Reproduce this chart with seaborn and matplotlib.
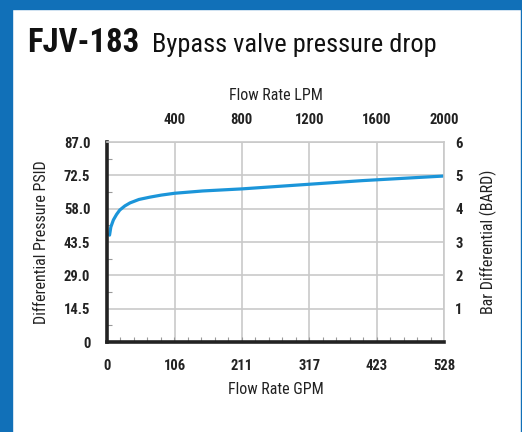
import numpy as np
import pandas as pd
import matplotlib
matplotlib.use("Agg")
import matplotlib.pyplot as plt
from matplotlib.patches import Rectangle
from matplotlib.ticker import MultipleLocator
import seaborn as sns

# curve (GPM vs PSID)
flow_gpm = [4, 6, 10, 15, 20, 28, 36, 50, 67, 85, 106, 150, 211, 300, 400, 528]
pressure_psid = [46.5, 50.0, 53.1, 55.5, 57.4, 59.2, 60.5, 62.0, 63.0, 63.9,
                 64.7, 65.7, 66.6, 68.3, 70.2, 72.2]

gpm_ticks = [0, 106, 211, 317, 423, 528]
psid_ticks = [0, 14.5, 29.0, 43.5, 58.0, 72.5, 87.0]
psid_labels = ["0", "14.5", "29.0", "43.5", "58.0", "72.5", "87.0"]
lpm_ticks = [400, 800, 1200, 1600, 2000]
bar_ticks = [1, 2, 3, 4, 5, 6]

GPM_TO_LPM = 3.78541
FRAME_BLUE = "#1170b8"
LINE_BLUE = "#1b95d9"
GRID = "#c9c9c9"
NARROW = ["Roboto Condensed", "Archivo Narrow", "Liberation Sans", "DejaVu Sans"]

sns.set_style("white")
plt.rcParams["font.family"] = NARROW

df = pd.DataFrame({"gpm": flow_gpm, "psid": pressure_psid})

fig = plt.figure(figsize=(5.22, 4.32), dpi=100, facecolor="white")
W, H = 522, 432

# blue frame
fig.patches.append(Rectangle((0, 1 - 9 / H), 1, 9 / H, transform=fig.transFigure,
                             color=FRAME_BLUE, zorder=0))
fig.patches.append(Rectangle((0, 0), 12 / W, 1, transform=fig.transFigure,
                             color=FRAME_BLUE, zorder=0))
fig.patches.append(Rectangle((520.5 / W, 0), 2 / W, 1, transform=fig.transFigure,
                             color=FRAME_BLUE, zorder=0))

# title
fig.text(27 / W, 1 - 52 / H, "FJV-183", fontsize=23.5, fontweight="bold",
         va="baseline", color="#111111")
fig.text(152 / W, 1 - 52 / H, "Bypass valve pressure drop", fontsize=19,
         va="baseline", color="#111111")

ax = fig.add_axes([107 / W, 1 - 342 / H, 337 / W, 200 / H])
sns.lineplot(data=df, x="gpm", y="psid", ax=ax, color=LINE_BLUE, linewidth=2.3)

ax.set_xlim(0, 528)
ax.set_ylim(0, 87)
ax.set_xticks(gpm_ticks)
ax.set_yticks(psid_ticks)
ax.set_yticklabels(psid_labels)
ax.xaxis.set_minor_locator(MultipleLocator(528 / 25))
ax.yaxis.set_minor_locator(MultipleLocator(7.25))
ax.grid(True, which="major", color=GRID, linewidth=1.2)
ax.set_axisbelow(True)
ax.tick_params(axis="both", which="major", length=0, labelsize=10.5,
               labelcolor="#222222")
ax.tick_params(axis="x", which="major", pad=12)
ax.tick_params(axis="y", which="major", pad=12)
ax.tick_params(axis="both", which="minor", direction="in", length=3.5,
               width=0.8, color="#999999")
for lab in ax.get_xticklabels() + ax.get_yticklabels():
    lab.set_fontweight("bold")

for side in ["left", "bottom"]:
    ax.spines[side].set_color("#222222")
    ax.spines[side].set_linewidth(2.6)
for side in ["top", "right"]:
    ax.spines[side].set_color(GRID)
    ax.spines[side].set_linewidth(1.2)

ax.set_xlabel("Flow Rate GPM", fontsize=11.5, color="#222222")
ax.set_ylabel("Differential Pressure PSID", fontsize=11.5, color="#222222")
ax.xaxis.set_label_coords(0.5, -0.235)
ax.xaxis.label.set_va("center")
ax.yaxis.set_label_coords(-0.193, 0.5)
ax.yaxis.label.set_va("center")

# top axis in LPM
axt = ax.twiny()
axt.set_xlim(0, 528 * GPM_TO_LPM)
axt.set_xticks(lpm_ticks)
axt.tick_params(axis="x", length=0, labelsize=10.5, pad=11, labelcolor="#222222")
for lab in axt.get_xticklabels():
    lab.set_fontweight("bold")
axt.set_xlabel("Flow Rate LPM", fontsize=11.5, color="#222222")
axt.xaxis.set_label_coords(0.5, 1.23)
axt.xaxis.label.set_va("center")
for s in axt.spines.values():
    s.set_visible(False)

# right axis in bar
axr = ax.twinx()
axr.set_ylim(0, 6)
axr.set_yticks(bar_ticks)
axr.tick_params(axis="y", length=0, labelsize=10.5, pad=8, labelcolor="#222222")
for lab in axr.get_yticklabels():
    lab.set_fontweight("bold")
axr.set_ylabel("Bar Differential (BARD)", fontsize=11.5, color="#222222")
axr.yaxis.set_label_coords(1.131, 0.5)
axr.yaxis.label.set_va("center")
for s in axr.spines.values():
    s.set_visible(False)

fig.savefig("out.png", dpi=100, facecolor="white")
